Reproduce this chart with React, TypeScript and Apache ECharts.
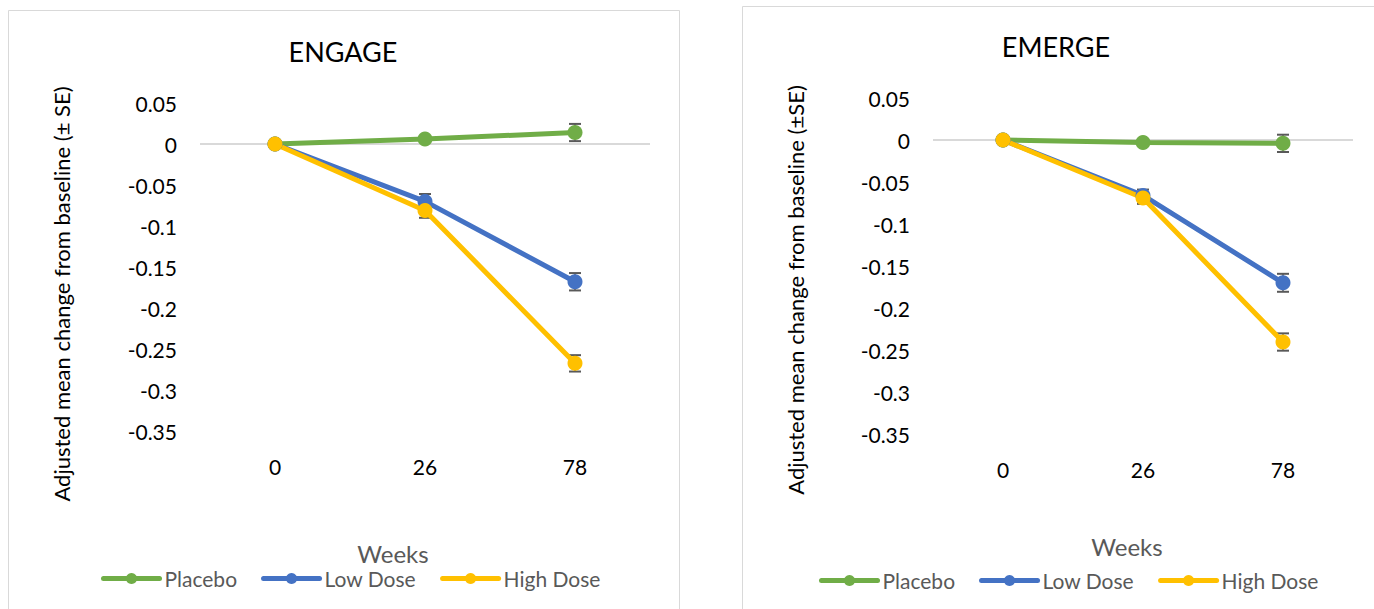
import React, { useEffect, useRef } from "react";
import * as echarts from "echarts";

const weeks = ["0", "26", "78"];
const seriesNames = ["Placebo", "Low Dose", "High Dose"];
const seriesColors = ["#70AD47", "#4472C4", "#FFC000"];

const engagePlacebo = [0, 0.006, 0.014];
const engagePlaceboSE = [0, 0.003, 0.0105];
const engageLow = [0, -0.07, -0.168];
const engageLowSE = [0, 0.009, 0.0106];
const engageHigh = [0, -0.081, -0.2675];
const engageHighSE = [0, 0.009, 0.01];

const emergePlacebo = [0, -0.003, -0.004];
const emergePlaceboSE = [0, 0.004, 0.0103];
const emergeLow = [0, -0.066, -0.17];
const emergeLowSE = [0, 0.007, 0.0107];
const emergeHigh = [0, -0.069, -0.2405];
const emergeHighSE = [0, 0.007, 0.0103];

const yTickMin = -0.35;
const yTickMax = 0.05;
const yTickStep = 0.05;

const FONT = "Lato";

const panels = [
  {
    title: "ENGAGE",
    yName: "Adjusted mean change from baseline (± SE)",
    values: [engagePlacebo, engageLow, engageHigh],
    errors: [engagePlaceboSE, engageLowSE, engageHighSE],
  },
  {
    title: "EMERGE",
    yName: "Adjusted mean change from baseline (±SE)",
    values: [emergePlacebo, emergeLow, emergeHigh],
    errors: [emergePlaceboSE, emergeLowSE, emergeHighSE],
  },
];

const layout = [
  { box: [8, 10, 671, 620], grid: { left: 200, top: 103, width: 450, height: 328 }, title: [343, 51], yName: [61, 294], weeks: [393, 553], legendLeft: 96, legendTop: 563 },
  { box: [742, 6, 660, 620], grid: { left: 933, top: 98, width: 420, height: 336 }, title: [1056, 46], yName: [795, 290], weeks: [1127, 546], legendLeft: 814, legendTop: 565 },
];

function errorRender(params: any, api: any) {
  const idx = api.value(0);
  const v = api.value(1);
  const se = api.value(2);
  if (!se) return null;
  const top = api.coord([idx, v + se]);
  const bot = api.coord([idx, v - se]);
  const w = 6;
  const style = { stroke: "#595959", lineWidth: 2 };
  return {
    type: "group",
    children: [
      { type: "line", shape: { x1: top[0], y1: top[1], x2: bot[0], y2: bot[1] }, style: { stroke: "#595959", lineWidth: 1.5 } },
      { type: "line", shape: { x1: top[0] - w, y1: top[1], x2: top[0] + w, y2: top[1] }, style },
      { type: "line", shape: { x1: bot[0] - w, y1: bot[1], x2: bot[0] + w, y2: bot[1] }, style },
    ],
  };
}

export default function App() {
  const ref = useRef<HTMLDivElement>(null);
  useEffect(() => {
    if (!ref.current) return;
    const chart = echarts.init(ref.current, null, { renderer: "svg" });

    const grids: any[] = [];
    const xAxes: any[] = [];
    const yAxes: any[] = [];
    const series: any[] = [];
    const legends: any[] = [];
    const graphics: any[] = [];

    panels.forEach((p, gi) => {
      const L = layout[gi];
      graphics.push({
        type: "rect",
        z: -10,
        shape: { x: L.box[0] + 0.5, y: L.box[1] + 0.5, width: L.box[2], height: L.box[3] },
        style: { fill: "#ffffff", stroke: "#d9d9d9", lineWidth: 1 },
      });
      graphics.push({
        type: "text",
        x: L.title[0],
        y: L.title[1],
        style: { text: p.title, font: `27px ${FONT}`, fill: "#000000", textAlign: "center", textVerticalAlign: "middle" },
      });
      graphics.push({
        type: "text",
        x: L.yName[0],
        y: L.yName[1],
        rotation: Math.PI / 2,
        style: { text: p.yName, font: `22px ${FONT}`, fill: "#000000", textAlign: "center", textVerticalAlign: "middle" },
      });
      graphics.push({
        type: "text",
        x: L.weeks[0],
        y: L.weeks[1],
        style: { text: "Weeks", font: `24px ${FONT}`, fill: "#595959", textAlign: "center", textVerticalAlign: "middle" },
      });

      grids.push({ ...L.grid, containLabel: false });
      xAxes.push({
        type: "category",
        gridIndex: gi,
        data: weeks,
        axisLine: { show: false },
        axisTick: { show: false },
        axisLabel: { color: "#000000", fontFamily: FONT, fontSize: 21, margin: 25 },
        splitLine: { show: false },
      });
      yAxes.push({
        type: "value",
        gridIndex: gi,
        min: yTickMin,
        max: yTickMax,
        interval: yTickStep,
        axisLine: { show: false },
        axisTick: { show: false },
        splitLine: { show: false },
        axisLabel: {
          color: "#000000",
          fontFamily: FONT,
          fontSize: 21,
          margin: 23,
          formatter: (v: number) => String(Math.round(v * 100) / 100),
        },
      });

      p.values.forEach((vals, si) => {
        const se = p.errors[si];
        series.push({
          type: "custom",
          name: `err-${gi}-${si}`,
          xAxisIndex: gi,
          yAxisIndex: gi,
          z: 2,
          silent: true,
          renderItem: errorRender,
          encode: { x: 0, y: 1 },
          data: weeks.map((_, i) => [i, vals[i], se[i]]),
          markLine:
            si === 0
              ? {
                  silent: true,
                  z: 1,
                  symbol: "none",
                  label: { show: false },
                  lineStyle: { color: "#d9d9d9", width: 2, type: "solid" },
                  data: [{ yAxis: 0 }],
                }
              : undefined,
        });
      });
      p.values.forEach((vals, si) => {
        series.push({
          type: "line",
          name: seriesNames[si],
          xAxisIndex: gi,
          yAxisIndex: gi,
          z: 3,
          data: vals,
          symbol: "circle",
          symbolSize: 15,
          color: seriesColors[si],
          lineStyle: { width: 5, color: seriesColors[si] },
          itemStyle: { color: seriesColors[si] },
        });
      });

      legends.push({
        left: L.legendLeft,
        top: L.legendTop,
        data: seriesNames,
        itemWidth: 56,
        itemHeight: 14,
        itemGap: 24,
        lineStyle: { width: 5, cap: "round" },
        textStyle: { color: "#595959", fontFamily: FONT, fontSize: 21, padding: [0, 0, 0, 0] },
        selectedMode: false,
      });
    });

    chart.setOption({
      animation: false,
      backgroundColor: "#ffffff",
      textStyle: { fontFamily: FONT },
      grid: grids,
      xAxis: xAxes,
      yAxis: yAxes,
      legend: legends,
      series,
      graphic: graphics,
    });
    return () => chart.dispose();
  }, []);
  return <div ref={ref} style={{ position: "absolute", left: 0, top: 0, width: 1374, height: 609 }} />;
}
